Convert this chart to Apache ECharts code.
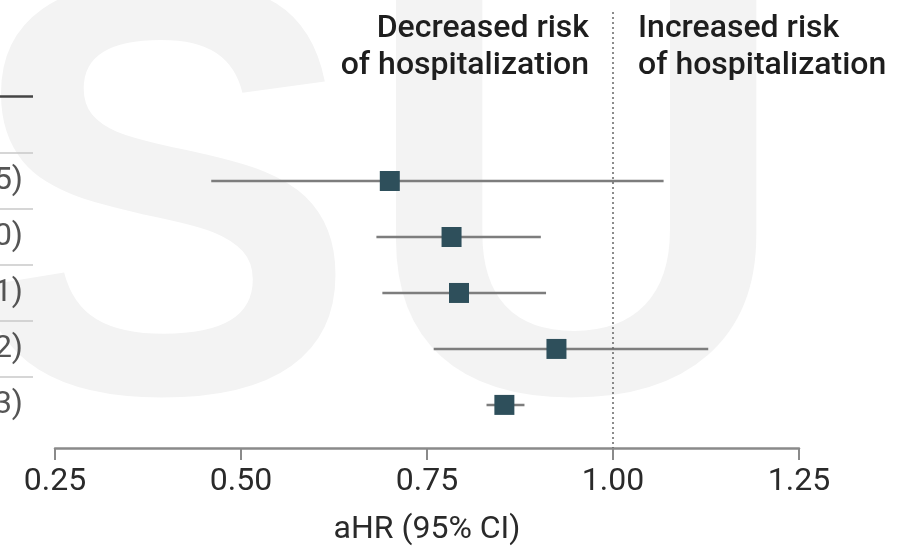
<!DOCTYPE html>
<html>
<head>
<meta charset="utf-8">
<script src="https://cdn.jsdelivr.net/npm/echarts@6/dist/echarts.min.js"></script>
<style>html,body{margin:0;padding:0;background:#fff;}#c{width:910px;height:552px;}</style>
</head>
<body>
<div id="c"></div>
<script>
// ---- data ----
const rowLabels = ['5)', '0)', '1)', '2)', '3)'];
const hr  = [0.700, 0.783, 0.793, 0.924, 0.854];
const lo  = [0.460, 0.682, 0.690, 0.759, 0.830];
const hi  = [1.068, 0.903, 0.910, 1.128, 0.881];
const xTicks = [0.25, 0.50, 0.75, 1.00, 1.25];
const refValue = 1.00;
const separators = [0.5, 1.5, 2.5, 3.5, 4.5];
const headerRule = -0.52;
const leftText = ['Decreased risk', 'of hospitalization'];
const rightText = ['Increased risk', 'of hospitalization'];
const axisTitle = 'aHR (95% CI)';

const FONT = 'Roboto, "Liberation Sans", Arial, sans-serif';
const WMFONT = '"Liberation Sans", Arial, sans-serif';
const rows = rowLabels.map((_, i) => i + 1);

const chart = echarts.init(document.getElementById('c'), null, {renderer: 'canvas'});

const ciData = rows.map((r, i) => [lo[i], hi[i], r]);
const ptData = rows.map((r, i) => [hr[i], r]);
const labData = rows.map((r, i) => [23, r, rowLabels[i]]);

const headFont = '500 32px ' + FONT;
const headFill = '#1e1e1e';
const headers = [];
leftText.forEach((t, k) => headers.push({ type: 'text', z: 10, x: 589, y: 45 + k * 37,
  style: { text: t, align: 'right', verticalAlign: 'bottom', font: headFont, fill: headFill } }));
rightText.forEach((t, k) => headers.push({ type: 'text', z: 10, x: 638, y: 45 + k * 37,
  style: { text: t, align: 'left', verticalAlign: 'bottom', font: headFont, fill: headFill } }));

const option = {
  backgroundColor: '#ffffff',
  animation: false,
  graphic: [
    { type: 'text', z: -10, silent: true, x: -35, y: -66, scaleX: 1.0,
      style: { text: 'S', font: 'bold 590px ' + WMFONT, fill: '#f3f3f3' } },
    { type: 'text', z: -10, silent: true, x: 360, y: -66, scaleX: 1.016,
      style: { text: 'U', font: 'bold 590px ' + WMFONT, fill: '#f3f3f3' } }
  ].concat(headers),
  grid: [
    { left: 55, right: 111, top: 12, bottom: 104 },
    { left: 0, width: 33, top: 12, bottom: 104 }
  ],
  xAxis: [
    {
      type: 'value', gridIndex: 0, position: 'bottom', min: 0.25, max: 1.25, interval: 0.25,
      splitLine: { show: false },
      axisLine: { show: true, onZero: false, lineStyle: { color: '#8a8a8a', width: 2.5 } },
      axisTick: { show: true, length: 12, lineStyle: { color: '#8a8a8a', width: 2 } },
      axisLabel: { fontFamily: FONT, fontSize: 32, color: '#2a2a2a', margin: 18,
        formatter: v => v.toFixed(2) },
      name: axisTitle, nameLocation: 'middle', nameGap: 66,
      nameTextStyle: { fontFamily: FONT, fontSize: 32, color: '#2a2a2a' }
    },
    { type: 'value', gridIndex: 1, min: 0, max: 33, show: false }
  ],
  yAxis: [
    { type: 'value', gridIndex: 0, inverse: true, min: -2.02, max: 5.77, show: false },
    { type: 'value', gridIndex: 1, inverse: true, min: -2.02, max: 5.77, show: false }
  ],
  series: [
    {
      type: 'custom', xAxisIndex: 0, yAxisIndex: 0, z: 2,
      data: ciData,
      renderItem: function (params, api) {
        const a = api.coord([api.value(0), api.value(2)]);
        const b = api.coord([api.value(1), api.value(2)]);
        return { type: 'line', shape: { x1: a[0], y1: a[1], x2: b[0], y2: b[1] },
          style: { stroke: '#7d7d7d', lineWidth: 2.5 } };
      },
      markLine: {
        silent: true, symbol: 'none', label: { show: false },
        lineStyle: { color: '#666', type: [2, 3], width: 1.5 },
        data: [{ xAxis: refValue }]
      }
    },
    {
      type: 'scatter', xAxisIndex: 0, yAxisIndex: 0, z: 3,
      symbol: 'rect', symbolSize: 20,
      itemStyle: { color: '#2e4f5b', opacity: 1 },
      data: ptData
    },
    {
      type: 'scatter', xAxisIndex: 1, yAxisIndex: 1, symbolSize: 0,
      data: labData,
      label: { show: true, position: 'left', distance: 0, formatter: p => p.data[2],
        fontFamily: FONT, fontSize: 32, color: '#2a2a2a' },
      markLine: {
        silent: true, symbol: 'none', label: { show: false },
        data: separators.map(s => ({ yAxis: s, lineStyle: { color: '#c8c8c8', width: 1.5, type: 'solid' } }))
          .concat([{ yAxis: headerRule, lineStyle: { color: '#444', width: 2.5, type: 'solid' } }])
      }
    }
  ]
};
chart.setOption(option);
</script>
</body>
</html>
